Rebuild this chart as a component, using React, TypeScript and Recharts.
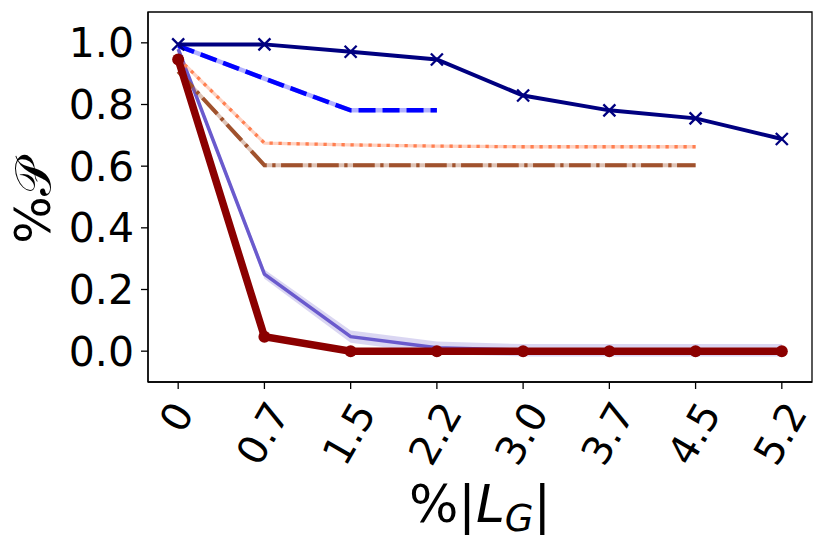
import React from 'react';
import { ComposedChart, Line, Area, XAxis, YAxis, ReferenceArea } from 'recharts';

const xLabels = ['0', '0.7', '1.5', '2.2', '3.0', '3.7', '4.5', '5.2'];
const navySeries = [0.995, 0.995, 0.971, 0.946, 0.829, 0.781, 0.755, 0.688];
const blueDashed = [0.99, 0.884, 0.781, 0.781, null, null, null, null];
const coralDotted = [0.95, 0.675, 0.669, 0.665, 0.663, 0.663, 0.663, null];
const siennaDashDot = [0.907, 0.603, 0.603, 0.603, 0.603, 0.603, 0.603, null];
const slateMean = [0.98, 0.25, 0.047, 0.011, 0.003, 0.003, 0.003, 0.003];
const slateSpread = [0.01, 0.015, 0.02, 0.02, 0.02, 0.02, 0.02, 0.02];
const redSeries = [0.946, 0.047, 0, 0, 0, 0, 0, 0];
const yTicks = [0, 0.2, 0.4, 0.6, 0.8, 1.0];

const data = xLabels.map((label, i) => ({
	idx: i,
	label,
	navy: navySeries[i],
	blue: blueDashed[i],
	coral: coralDotted[i],
	sienna: siennaDashDot[i],
	slate: slateMean[i],
	slateBand: [slateMean[i] - slateSpread[i], slateMean[i] + slateSpread[i]],
	red: redSeries[i],
}));

const FONT = '"DejaVu Sans", sans-serif';
const X_FS = 40;

function charWidth(c: string) {
	return c === '.' ? 0.318 : 0.636;
}

function XTick(props: any) {
	const { x, payload } = props;
	const label = xLabels[payload.value] ?? '';
	const len = label.split('').reduce((s, c) => s + charWidth(c), 0) * X_FS - 0.15 * X_FS;
	const inkH = 0.866 * len + 0.5 * 0.73 * X_FS;
	const top = 401;
	const cx = x - 2;
	const cy = top + inkH / 2;
	return (
		<text
			transform={`translate(${cx},${cy}) rotate(-60)`}
			textAnchor="middle"
			dy="0.36em"
			fontFamily={FONT}
			fontSize={X_FS}
			fill="#000"
		>
			{label}
		</text>
	);
}

function XMarker(props: any) {
	const { cx, cy } = props;
	if (cx == null || cy == null) return null;
	const s = 6;
	return (
		<g stroke="#000080" strokeWidth={2.3}>
			<line x1={cx - s} y1={cy - s} x2={cx + s} y2={cy + s} />
			<line x1={cx - s} y1={cy + s} x2={cx + s} y2={cy - s} />
		</g>
	);
}

export default function App() {
	return (
		<div style={{ position: 'absolute', left: 0, top: 0, width: 831, height: 546, background: '#fff' }}>
			<ComposedChart width={831} height={546} data={data} margin={{ top: 12, right: 19, left: 0, bottom: 0 }}>
				<XAxis
					dataKey="idx"
					type="number"
					domain={[-0.35, 7.35]}
					ticks={[0, 1, 2, 3, 4, 5, 6, 7]}
					height={164}
					stroke="#000"
					strokeWidth={1.3}
					tickSize={7}
					tickLine={{ stroke: '#000', strokeWidth: 1.3 }}
					tick={<XTick />}
					interval={0}
				/>
				<YAxis
					type="number"
					domain={[-0.1, 1.1]}
					ticks={yTicks}
					width={148}
					stroke="#000"
					strokeWidth={1.3}
					tickSize={7}
					tickMargin={7}
					tickLine={{ stroke: '#000', strokeWidth: 1.3 }}
					tickFormatter={(v: number) => v.toFixed(1)}
					tick={{ fill: '#000', fontSize: 41, fontFamily: FONT }}
					allowDataOverflow
				/>
				<ReferenceArea
					x1={-0.35}
					x2={7.35}
					y1={-0.1}
					y2={1.1}
					fill="none"
					fillOpacity={0}
					stroke="#000"
					strokeWidth={1.3}
					ifOverflow="visible"
				/>
				<Area
					dataKey="slateBand"
					stroke="none"
					fill="#6a5acd"
					fillOpacity={0.25}
					isAnimationActive={false}
					dot={false}
					activeDot={false}
				/>
				<Line dataKey="slate" stroke="#6a5acd" strokeWidth={3.5} dot={false} activeDot={false} isAnimationActive={false} />
				<Line dataKey="sienna" stroke="#a0522d" strokeOpacity={0.35} strokeWidth={4} dot={false} activeDot={false} isAnimationActive={false} />
				<Line dataKey="sienna" stroke="#a0522d" strokeWidth={4} strokeDasharray="21.7 5.5 3.3 5.5" dot={false} activeDot={false} isAnimationActive={false} />
				<Line dataKey="coral" stroke="#ff7f50" strokeOpacity={0.35} strokeWidth={3.3} dot={false} activeDot={false} isAnimationActive={false} />
				<Line dataKey="coral" stroke="#ff7f50" strokeWidth={3.3} strokeDasharray="3.3 5.7" dot={false} activeDot={false} isAnimationActive={false} />
				<Line dataKey="blue" stroke="#0000ff" strokeOpacity={0.3} strokeWidth={4.5} dot={false} activeDot={false} isAnimationActive={false} />
				<Line dataKey="blue" stroke="#0000ff" strokeWidth={4.5} strokeDasharray="17 7" dot={false} activeDot={false} isAnimationActive={false} />
				<Line dataKey="navy" stroke="#000080" strokeWidth={4} dot={<XMarker />} activeDot={false} isAnimationActive={false} />
				<Line
					dataKey="red"
					stroke="#8b0000"
					strokeWidth={7.5}
					dot={{ r: 6, fill: '#8b0000', stroke: '#8b0000', strokeWidth: 0 }}
					activeDot={false}
					isAnimationActive={false}
				/>
			</ComposedChart>
			<svg width={831} height={546} style={{ position: 'absolute', left: 0, top: 0, pointerEvents: 'none' }}>
				<text
					transform="translate(50,202) rotate(-90)"
					textAnchor="middle"
					fontFamily={FONT}
					fontSize={50}
					fill="#000"
				>
					%𝒫
				</text>
				<text x={480} y={522} textAnchor="middle" fontFamily={FONT} fontSize={52} fill="#000">
					%|<tspan fontStyle="italic">L</tspan>
					<tspan fontStyle="italic" fontSize={37} dy={9}>G</tspan>
					<tspan dy={-9}>|</tspan>
				</text>
			</svg>
		</div>
	);
}
